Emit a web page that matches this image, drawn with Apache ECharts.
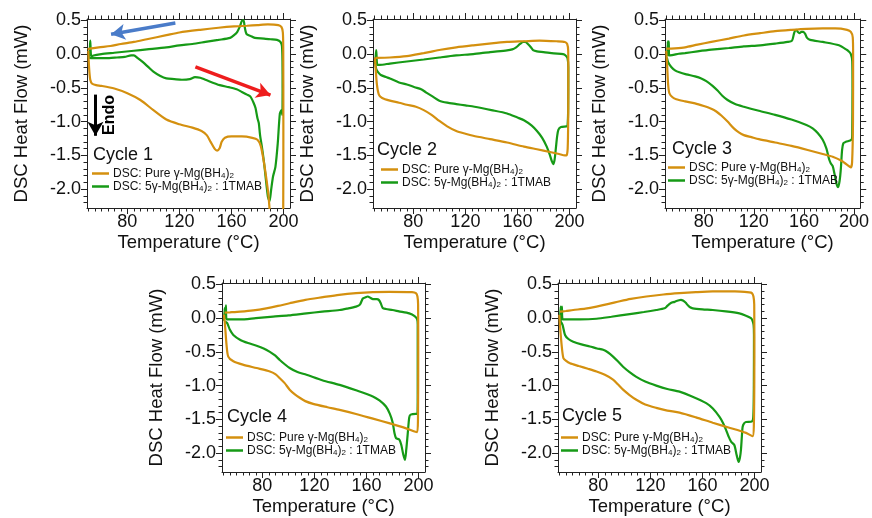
<!DOCTYPE html>
<html><head><meta charset="utf-8">
<script src="https://cdn.jsdelivr.net/npm/echarts@6/dist/echarts.min.js"></script>
<style>html,body{margin:0;padding:0;background:#fff}#c{width:872px;height:518px}</style>
</head><body><div id="c"></div>
<script>
// ---------- data (Temperature °C, DSC heat flow mW), path order: heating then cooling ----------
const cycle1Pure = [[50,0.05],[50.6,-0.2],[51.5,-0.38],[53,-0.44],[56,-0.46],[60,-0.47],[70,-0.51],[80,-0.58],[90,-0.68],[100,-0.83],[110,-0.97],[120,-1.04],[130,-1.09],[137,-1.14],[141,-1.2],[144,-1.3],[147,-1.4],[149,-1.43],[151,-1.39],[152.5,-1.3],[155,-1.24],[160,-1.22],[168,-1.22],[176,-1.24],[180,-1.27],[182.5,-1.36],[184.5,-1.55],[186.5,-1.8],[188.5,-2.1],[190,-2.5],[191,-2.8],[199,-2.8],[199.8,-2.3],[199.9,-1.0],[199.8,0.1],[199.5,0.32],[198.5,0.4],[196,0.43],[188,0.44],[180,0.43],[172,0.42],[162,0.41],[150,0.39],[136,0.36],[120,0.32],[110,0.28],[95,0.22],[85,0.18],[75,0.15],[67,0.12],[58,0.1],[51,0.08],[49.5,0.07]];
const cycle1Tmab = [[49.8,-0.04],[52,-0.06],[59,-0.06],[66,-0.06],[72,-0.05],[78,-0.04],[83,-0.02],[85,-0.02],[88,-0.06],[92,-0.12],[96,-0.19],[100,-0.26],[105,-0.32],[110,-0.36],[116,-0.37],[122,-0.38],[128,-0.37],[132,-0.34],[136,-0.35],[140,-0.38],[151,-0.46],[158,-0.49],[164,-0.52],[168,-0.56],[172,-0.6],[174.6,-0.63],[177,-0.72],[178.5,-0.8],[180,-0.95],[181,-1.02],[182,-1.2],[183.6,-1.4],[185,-1.6],[186.2,-1.81],[188,-2.11],[189.3,-2.18],[190.5,-2.01],[192,-1.81],[193.8,-1.67],[195.6,-1.32],[197.2,-0.88],[198.5,-0.83],[199.1,-0.9],[199.3,-0.5],[199.2,-0.1],[198.8,0.12],[197.7,0.18],[195,0.21],[190,0.22],[185,0.23],[178,0.24],[174.5,0.27],[171.5,0.3],[170.2,0.4],[169.3,0.5],[168,0.49],[166.5,0.41],[164.5,0.33],[162,0.28],[159,0.24],[150,0.21],[140,0.18],[130,0.15],[120,0.13],[110,0.1],[95,0.07],[85,0.05],[70,0.02],[60,0.0],[54,-0.02],[52.3,-0.04],[51.5,0.2],[51,0.0],[50.3,-0.05]];
const cycle2Pure = [[50.5,-0.05],[51,-0.2],[52,-0.45],[53.5,-0.6],[56,-0.65],[62,-0.69],[69,-0.72],[75,-0.75],[82,-0.78],[88,-0.83],[94,-0.9],[100,-0.99],[106,-1.07],[113,-1.14],[120,-1.18],[126,-1.21],[139,-1.26],[152,-1.31],[165,-1.37],[175,-1.41],[185,-1.45],[192,-1.48],[196.5,-1.5],[197.8,-1.5],[198.6,-1.4],[199,-1.0],[199.1,-0.3],[199,0.05],[198.2,0.15],[196.4,0.18],[190,0.19],[177,0.2],[165,0.19],[152,0.18],[140,0.16],[126,0.13],[113,0.1],[101,0.065],[92,0.03],[88,0.015],[75,-0.03],[62,-0.05],[51,-0.055]];
const cycle2Tmab = [[50.5,-0.1],[51.5,-0.22],[53,-0.27],[55,-0.31],[59,-0.34],[62,-0.36],[69,-0.42],[75,-0.45],[81,-0.49],[86,-0.52],[90,-0.57],[95,-0.63],[100,-0.69],[106,-0.72],[113,-0.74],[120,-0.76],[127,-0.78],[140,-0.83],[152,-0.88],[160,-0.94],[165,-0.98],[171,-1.06],[175,-1.14],[179,-1.24],[182.5,-1.37],[185,-1.5],[186.5,-1.59],[187.5,-1.63],[188.5,-1.57],[189.5,-1.4],[190.5,-1.22],[191.5,-1.12],[193.5,-1.08],[197.7,-1.07],[198.5,-1.06],[199,-0.8],[199.1,-0.2],[198.5,-0.06],[197,-0.02],[195,0.0],[188,0.01],[180,0.03],[175,0.04],[172,0.06],[170,0.11],[168,0.15],[166,0.18],[164.5,0.18],[162,0.15],[159,0.1],[156,0.07],[152,0.055],[139,0.03],[126,0.0],[113,-0.02],[100,-0.05],[88,-0.08],[75,-0.11],[62,-0.14],[54,-0.16],[52.3,-0.16],[51.5,0.06],[51,-0.05],[50.5,-0.15]];
const cycle3Pure = [[50,0.05],[50.8,-0.2],[51.5,-0.45],[52.5,-0.58],[55,-0.64],[58,-0.67],[65,-0.7],[73,-0.73],[80,-0.77],[86,-0.81],[90,-0.85],[94,-0.91],[99,-1.0],[104,-1.1],[108,-1.16],[112,-1.2],[118,-1.23],[124,-1.26],[137,-1.31],[150,-1.36],[163,-1.42],[175,-1.48],[183,-1.52],[190,-1.58],[196,-1.66],[197.5,-1.68],[198.5,-1.6],[199.2,-1.0],[199.3,0.0],[199,0.25],[197.5,0.33],[194.5,0.36],[185,0.38],[175,0.38],[162,0.375],[150,0.36],[137,0.34],[125,0.31],[112,0.276],[100,0.23],[86,0.18],[75,0.14],[65,0.1],[57,0.085],[51.5,0.08],[50,0.08]];
const cycle3Tmab = [[50.5,-0.05],[51.5,-0.12],[54,-0.19],[57,-0.24],[60.5,-0.27],[66,-0.3],[73,-0.33],[78,-0.36],[82,-0.4],[87,-0.47],[91,-0.54],[95,-0.62],[99,-0.68],[105,-0.74],[112,-0.78],[124,-0.84],[137,-0.9],[150,-0.97],[162,-1.05],[167,-1.1],[171,-1.17],[175,-1.27],[178,-1.4],[180,-1.55],[181.5,-1.62],[183,-1.66],[184.5,-1.78],[186,-1.92],[187.3,-1.97],[188.5,-1.88],[189.5,-1.7],[190.5,-1.42],[191.5,-1.32],[193.5,-1.3],[197,-1.28],[198.3,-1.26],[198.6,-1.2],[198.8,-0.5],[198.6,-0.1],[197.5,0.0],[195.8,0.04],[194.5,0.06],[188,0.13],[175,0.18],[165,0.21],[162.5,0.24],[161,0.3],[159.5,0.33],[158,0.33],[156.5,0.31],[155,0.33],[154,0.36],[153,0.35],[152,0.3],[150.5,0.2],[147,0.18],[137,0.155],[125,0.13],[112,0.114],[100,0.09],[86,0.065],[75,0.04],[65,0.015],[60,0.005],[53,-0.02],[52.3,-0.02],[52,0.19],[51.6,-0.02],[51.2,0.19],[50.8,-0.03]];
const cycle4Pure = [[50.5,0.05],[51.3,-0.1],[52.5,-0.4],[53.8,-0.57],[57.7,-0.64],[65,-0.69],[75.6,-0.74],[85.8,-0.79],[90,-0.83],[93.4,-0.89],[97,-0.96],[101,-1.06],[105,-1.13],[108.7,-1.18],[113,-1.23],[119,-1.27],[130,-1.32],[139.4,-1.36],[152,-1.42],[165,-1.49],[178,-1.56],[190,-1.63],[197,-1.68],[199,-1.69],[199.6,-1.5],[199.8,-0.5],[199.7,0.2],[199.2,0.32],[198,0.37],[195,0.385],[177.6,0.39],[165,0.385],[152,0.37],[139,0.345],[126.6,0.31],[113,0.27],[101,0.22],[92,0.18],[83,0.145],[73,0.115],[63,0.096],[55,0.085],[51,0.08]];
const cycle4Tmab = [[51,-0.05],[53,-0.075],[55,-0.17],[57.7,-0.25],[62.8,-0.32],[69,-0.37],[75.6,-0.41],[81,-0.45],[85.8,-0.5],[89.5,-0.55],[93.4,-0.62],[97,-0.68],[101,-0.74],[107,-0.8],[113.9,-0.84],[126,-0.92],[139.4,-0.99],[152,-1.07],[164.9,-1.16],[170,-1.22],[175,-1.31],[178,-1.42],[180.2,-1.55],[181.5,-1.7],[182.8,-1.78],[185.3,-1.8],[186.8,-1.88],[188.3,-2.02],[189.6,-2.1],[190.6,-1.95],[191.7,-1.72],[192.9,-1.47],[194,-1.43],[198,-1.42],[199.2,-1.42],[199.4,-1.0],[199.4,-0.1],[199,-0.02],[197,0.03],[192.9,0.07],[185,0.1],[180,0.12],[175,0.135],[172.5,0.15],[171,0.22],[169.5,0.27],[168,0.28],[165,0.28],[163,0.3],[161,0.32],[159.5,0.31],[157.2,0.29],[155,0.2],[152,0.17],[145,0.14],[139.4,0.12],[126,0.095],[113.9,0.07],[100,0.04],[88.3,0.022],[75,0.0],[62.8,-0.02],[55,-0.02],[52.5,-0.02],[52,0.19],[51.5,0.0],[51,0.15],[50.6,-0.04]];
const cycle5Pure = [[50,0.05],[50.5,-0.1],[51.8,-0.4],[53.1,-0.59],[55,-0.63],[58.2,-0.67],[65,-0.71],[72,-0.75],[78.6,-0.79],[85,-0.84],[91.3,-0.91],[95,-0.98],[99,-1.06],[104,-1.14],[109.2,-1.21],[116,-1.28],[124.5,-1.33],[133,-1.37],[142.4,-1.4],[155,-1.47],[167.9,-1.55],[180,-1.62],[193.5,-1.7],[198.5,-1.75],[199.5,-1.6],[199.9,-0.5],[199.8,0.2],[199.2,0.32],[198,0.37],[196,0.38],[185,0.395],[167.9,0.395],[155,0.385],[142.4,0.37],[130,0.35],[116.9,0.32],[105,0.285],[96.5,0.25],[88,0.21],[78.6,0.17],[70,0.14],[60.7,0.12],[55,0.105],[50.5,0.095]];
const cycle5Tmab = [[51,-0.05],[52.5,-0.1],[54.4,-0.25],[57,-0.31],[60.7,-0.35],[67,-0.39],[73.5,-0.42],[79,-0.45],[83.7,-0.47],[87.5,-0.51],[91.3,-0.57],[95,-0.64],[99,-0.72],[104,-0.8],[109.2,-0.87],[116,-0.94],[124.5,-1.0],[133,-1.05],[142.4,-1.09],[152,-1.16],[162.9,-1.26],[168,-1.34],[173,-1.46],[176,-1.56],[178.2,-1.66],[180,-1.75],[182,-1.83],[184.5,-1.88],[186.3,-2.03],[187.8,-2.13],[188.8,-2.07],[189.6,-1.95],[190.3,-1.75],[190.9,-1.61],[192,-1.56],[193.5,-1.54],[198.1,-1.53],[199.1,-1.45],[199.5,-1.0],[199.6,-0.25],[199.3,-0.1],[198.3,-0.03],[197.3,0.0],[193,0.04],[188.4,0.07],[178,0.1],[167.9,0.12],[160,0.13],[152.6,0.145],[150.5,0.16],[148.8,0.19],[147,0.23],[145,0.26],[143.5,0.27],[142,0.265],[139.5,0.25],[138.6,0.24],[136.5,0.23],[134.8,0.21],[133,0.18],[130.9,0.145],[124.5,0.12],[115,0.09],[104.1,0.06],[90,0.02],[78.6,-0.01],[66,-0.02],[55.7,-0.02],[52.5,-0.02],[52,0.17],[51.5,-0.03],[51,0.17],[50.5,-0.05]];

const cycleLabels = ['Cycle 1','Cycle 2','Cycle 3','Cycle 4','Cycle 5'];
const seriesNames = ['DSC: Pure γ-Mg(BH4)2', 'DSC: 5γ-Mg(BH4)2 : 1TMAB'];
const xMajorTicks = [80,120,160,200];
const xMinorTicks = [50,55,60,65,70,75,80,85,90,95,100,105,110,115,120,125,130,135,140,145,150,155,160,165,170,175,180,185,190,195,200];
const yMajorTicks = [-2.0,-1.5,-1.0,-0.5,0.0,0.5];
const yMinorTicks = [-2.2,-2.1,-2.0,-1.9,-1.8,-1.7,-1.6,-1.5,-1.4,-1.3,-1.2,-1.1,-1.0,-0.9,-0.8,-0.7,-0.6,-0.5,-0.4,-0.3,-0.2,-0.1,0.0,0.1,0.2,0.3,0.4,0.5];
// annotation arrows of cycle 1 (data coordinates)
const coolingArrow = [[116.9,0.46],[67.5,0.295]];
const heatingArrow = [[132.3,-0.19],[190,-0.607]];
const endoArrow = [[55.5,-0.6],[55.5,-1.21]];

// ---------- layout / style ----------
const X_MIN = 49, X_MAX = 205, Y_MIN = -2.28, Y_MAX = 0.52;
const FONT = '"Liberation Sans", Arial, Helvetica, sans-serif';
const ORANGE = '#D4900F', GREEN = '#169A16', AX = '#222';
const panelData = [[cycle1Pure,cycle1Tmab],[cycle2Pure,cycle2Tmab],[cycle3Pure,cycle3Tmab],[cycle4Pure,cycle4Tmab],[cycle5Pure,cycle5Tmab]];
const layout = [
  {left:87,  top:19,  legLeft:92,  legTop:167, tagX:93,  tagY:155},
  {left:373, top:19,  legLeft:381, legTop:163, tagX:377, tagY:150},
  {left:665, top:19,  legLeft:668, legTop:161, tagX:672, tagY:149},
  {left:222, top:283, legLeft:226, legTop:431, tagX:227, tagY:417},
  {left:558, top:283, legLeft:561, legTop:431, tagX:562, tagY:416}
];
const GW = 203, GH = 189;

const grid = [], xAxis = [], yAxis = [], series = [], legend = [], graphic = [];
function axisBase(i, pos, ticks, len, showLine, showLabel) {
  return {
    type:'value', gridIndex:i, position:pos, silent:true,
    splitLine:{show:false},
    axisLine:{show:showLine, onZero:false, lineStyle:{color:AX, width:1}},
    axisTick:{show:true, inside:false, length:len, customValues:ticks, lineStyle:{color:AX, width:1}},
    axisLabel:{show:showLabel, customValues:ticks, fontSize:18, color:'#111', fontFamily:FONT}
  };
}
layout.forEach((L, i) => {
  grid.push({left:L.left, top:L.top, width:GW, height:GH, containLabel:false});
  const xs = [
    axisBase(i,'bottom',xMajorTicks,6,true,true),
    axisBase(i,'bottom',xMinorTicks,3.5,false,false),
    axisBase(i,'top',xMajorTicks,6,true,false),
    axisBase(i,'top',xMinorTicks,3.5,false,false)
  ];
  xs.forEach(a => { a.min = X_MIN; a.max = X_MAX; });
  Object.assign(xs[0], {name:'Temperature (°C)', nameLocation:'middle', nameGap:25,
    nameTextStyle:{fontSize:18.5, color:'#111', fontFamily:FONT}});
  xs[0].axisLabel.margin = 5;
  const ys = [
    axisBase(i,'left',yMajorTicks,6,true,true),
    axisBase(i,'left',yMinorTicks,3.5,false,false),
    axisBase(i,'right',yMajorTicks,6,true,false),
    axisBase(i,'right',yMinorTicks,3.5,false,false)
  ];
  ys.forEach(a => { a.min = Y_MIN; a.max = Y_MAX; });
  Object.assign(ys[0], {name:'DSC Heat Flow (mW)', nameLocation:'middle', nameRotate:90, nameGap:56,
    nameTextStyle:{fontSize:18.5, color:'#111', fontFamily:FONT}});
  ys[0].axisLabel.margin = 6;
  ys[0].axisLabel.formatter = v => (Math.abs(v) < 1e-9 ? 0 : v).toFixed(1);
  xAxis.push(...xs); yAxis.push(...ys);

  const [pure, tmab] = panelData[i];
  const green = {type:'line', name:seriesNames[1], xAxisIndex:4*i, yAxisIndex:4*i, data:tmab,
    symbol:'none', showSymbol:false, smooth:0.25, clip:true, animation:false, silent:true,
    lineStyle:{color:GREEN, width:2.2}, itemStyle:{color:GREEN}, z:2};
  const orange = {type:'line', name:seriesNames[0], xAxisIndex:4*i, yAxisIndex:4*i, data:pure,
    symbol:'none', showSymbol:false, smooth:0.25, clip:true, animation:false, silent:true,
    lineStyle:{color:ORANGE, width:2.2}, itemStyle:{color:ORANGE}, z:3};
  if (i === 0) {
    const seg = (pts, color, w) => [
      {coord:pts[0], symbol:'none', lineStyle:{color:color, width:w, type:'solid'}, itemStyle:{color:color}},
      {coord:pts[1], symbol:'arrow', itemStyle:{color:color}}
    ];
    orange.markLine = {silent:true, animation:false, symbolSize:[12,14], label:{show:false},
      data:[seg(coolingArrow,'#4A7CC9',3.5), seg(heatingArrow,'#EE1D1D',3.5), seg(endoArrow,'#000',3)]};
  }
  series.push(green, orange);

  legend.push({left:L.legLeft, top:L.legTop, orient:'vertical', icon:'rect', itemWidth:17, itemHeight:2.5,
    itemGap:0, padding:0, selectedMode:false, data:seriesNames,
    formatter: n => n === seriesNames[0]
      ? '{n|DSC: Pure γ-Mg(BH}{s|4}{n|)}{s|2}'
      : '{n|DSC: 5γ-Mg(BH}{s|4}{n|)}{s|2}{n| : 1TMAB}',
    textStyle:{fontSize:12, color:'#111', fontFamily:FONT, lineHeight:13, padding:[0,0,0,-1],
      rich:{n:{fontSize:12, lineHeight:13, fontFamily:FONT, color:'#111'},
            s:{fontSize:8, lineHeight:13, fontFamily:FONT, color:'#111', verticalAlign:'bottom'}}}});
  graphic.push({type:'text', x:L.tagX, y:L.tagY, silent:true,
    style:{text:cycleLabels[i], fontSize:18, fontFamily:FONT, fill:'#111', align:'left', verticalAlign:'middle'}});
});
graphic.push({type:'text', x:110, y:115, rotation:Math.PI/2, silent:true,
  style:{text:'Endo', fontSize:16, fontWeight:'bold', fontFamily:FONT, fill:'#000', align:'center', verticalAlign:'middle'}});

const chart = echarts.init(document.getElementById('c'), null, {renderer:'canvas'});
chart.setOption({animation:false, backgroundColor:'#fff', grid, xAxis, yAxis, series, legend, graphic});
</script></body></html>
